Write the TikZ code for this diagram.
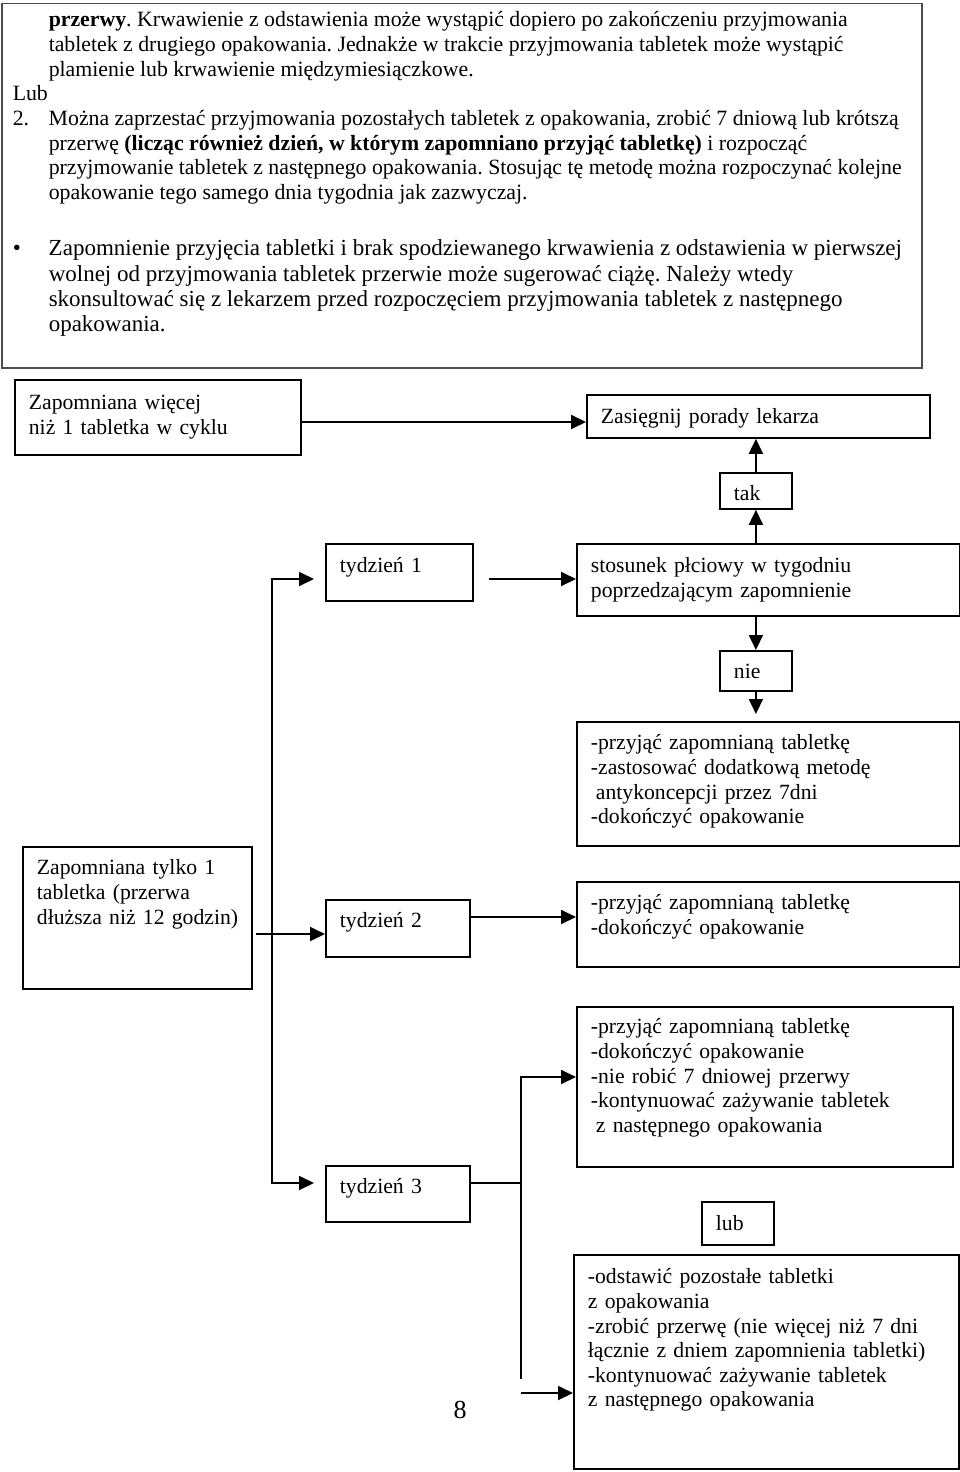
\documentclass[tikz,border=0pt]{standalone}
\usepackage{fontspec}
\setmainfont{Liberation Serif}
\usetikzlibrary{arrows.meta}
\frenchspacing

\newcommand\notefont{\fontsize{21.8}{24.7}\selectfont}
\newcommand\bulletfont{\fontsize{23}{25.3}\selectfont}
\newcommand\boxfont{\fontsize{21.7}{24.6}\selectfont}

\tikzset{
  note/.style={draw=black!70, line width=1.5pt, anchor=north west,
    inner xsep=11pt, inner ysep=0pt, font=\notefont},
  box/.style={draw, line width=1.8pt, anchor=north west,
    inner xsep=14pt, inner ysep=0pt, align=left, font=\boxfont},
  arr/.style={-{Triangle[length=15pt,width=14pt]}, line width=1.8pt},
  link/.style={line width=1.8pt}
}

\begin{document}
\begin{tikzpicture}[x=1pt,y=-1pt]
\useasboundingbox (0,0) rectangle (960,1472);
% ramka z tekstem
\node[note, text height=23pt, text depth=341pt] (note) at (1,3) {%
\begin{tabular}[t]{@{}p{36pt}@{}p{862pt}@{}}
 & \textbf{przerwy}. Krwawienie z odstawienia może wystąpić dopiero po zakończeniu przyjmowania\\
 & tabletek z drugiego opakowania. Jednakże w trakcie przyjmowania tabletek może wystąpić\\
 & plamienie lub krwawienie międzymiesiączkowe.\\
Lub & \\
2. & Można zaprzestać przyjmowania pozostałych tabletek z opakowania, zrobić 7 dniową lub krótszą\\
 & przerwę \textbf{(licząc również dzień, w którym zapomniano przyjąć tabletkę)} i rozpocząć\\
 & przyjmowanie tabletek z następnego opakowania. Stosując tę metodę można rozpoczynać kolejne\\
 & opakowanie tego samego dnia tygodnia jak zazwyczaj.\\[31.4pt]
\bulletfont\textbullet & \bulletfont Zapomnienie przyjęcia tabletki i brak spodziewanego krwawienia z odstawienia w pierwszej\\[0.6pt]
 & \bulletfont wolnej od przyjmowania tabletek przerwie może sugerować ciążę. Należy wtedy\\[0.6pt]
 & \bulletfont skonsultować się z lekarzem przed rozpoczęciem przyjmowania tabletek z następnego\\[0.6pt]
 & \bulletfont opakowania.
\end{tabular}};

% prostokaty schematu
\node[box, text width=258pt, text height=30pt, text depth=45pt] (zapw) at (14,379)
  {Zapomniana więcej\\niż 1 tabletka w cyklu};
\node[box, text width=315pt, text height=29pt, text depth=14pt] (porady) at (586,394)
  {Zasięgnij porady lekarza};
\node[box, text width=44pt, text height=28pt, text depth=8pt] (tak) at (719,472) {tak};
\node[box, text width=119pt, text height=29pt, text depth=28pt] (ty1) at (325,543) {tydzień 1};
\node[box, text width=355pt, text height=29pt, text depth=43pt] (stos) at (576,543)
  {stosunek płciowy w tygodniu\\poprzedzającym zapomnienie};
\node[box, text width=44pt, text height=28pt, text depth=12pt] (nie) at (719,650) {nie};
\node[box, text width=355pt, text height=28pt, text depth=96pt] (c1) at (576,721)
  {-przyjąć zapomnianą tabletkę\\-zastosować dodatkową metodę\\\hspace*{5pt}antykoncepcji przez 7dni\\-dokończyć opakowanie};
\node[box, text width=201pt, text height=28pt, text depth=114pt] (zap1) at (22,846)
  {Zapomniana tylko 1\\tabletka (przerwa\\\mbox{dłuższa niż 12 godzin)}};
\node[box, text width=116pt, text height=28pt, text depth=29pt] (ty2) at (325,899) {tydzień 2};
\node[box, text width=355pt, text height=28pt, text depth=57pt] (e1) at (576,881)
  {-przyjąć zapomnianą tabletkę\\-dokończyć opakowanie};
\node[box, text width=348pt, text height=27pt, text depth=133pt] (f1) at (576,1006)
  {-przyjąć zapomnianą tabletkę\\-dokończyć opakowanie\\-nie robić 7 dniowej przerwy\\-kontynuować zażywanie tabletek\\\hspace*{5pt}z następnego opakowania};
\node[box, text width=116pt, text height=28pt, text depth=28pt] (ty3) at (325,1165) {tydzień 3};
\node[box, text width=44pt, text height=29pt, text depth=14pt] (lub) at (701,1201) {lub};
\node[box, text width=357pt, text height=29pt, text depth=185pt] (g1) at (573,1254)
  {-odstawić pozostałe tabletki\\z opakowania\\-zrobić przerwę (nie więcej niż 7 dni\\łącznie z dniem zapomnienia tabletki)\\-kontynuować zażywanie tabletek\\z następnego opakowania};
\node[font=\fontsize{26}{30}\selectfont] (strona) at (460,1410) {8};

% wysokosci i kolumny linii
\coordinate (r0) at (0,422);
\coordinate (r1) at (0,579);
\coordinate (r2b) at (0,917);
\coordinate (r2) at (0,934);
\coordinate (rf) at (0,1077);
\coordinate (r3) at (0,1183);
\coordinate (rgend) at (0,1379);
\coordinate (rg) at (0,1393);
\coordinate (trunk) at (272,0);
\coordinate (fork) at (521,0);

% strzalki
\draw[arr] (zapw.east |- r0) -- (porady.west |- r0);
\draw[arr] (tak.north) -- (tak.north |- porady.south);
\draw[arr] (tak.south |- stos.north) -- (tak.south);
\draw[arr] (nie.north |- stos.south) -- (nie.north);
\draw[arr, shorten >=7pt] (nie.south) -- (nie.south |- c1.north);
\draw[arr, shorten <=15pt] (ty1.east |- r1) -- (stos.west |- r1);
\draw[arr, shorten >=11pt] (trunk |- r3) -- (trunk |- r1) -- (ty1.west |- r1);
\draw[arr, shorten >=11pt] (trunk |- r1) -- (trunk |- r3) -- (ty3.west |- r3);
\draw[arr, shorten <=3pt] (zap1.east |- r2) -- (ty2.west |- r2);
\draw[arr] (ty2.east |- r2b) -- (e1.west |- r2b);
\draw[arr] (ty3.east |- r3) -- (fork |- r3) -- (fork |- rf) -- (f1.west |- rf);
\draw[link] (fork |- r3) -- (fork |- rgend);
\draw[arr] (fork |- rg) -- (g1.west |- rg);
\end{tikzpicture}
\end{document}
